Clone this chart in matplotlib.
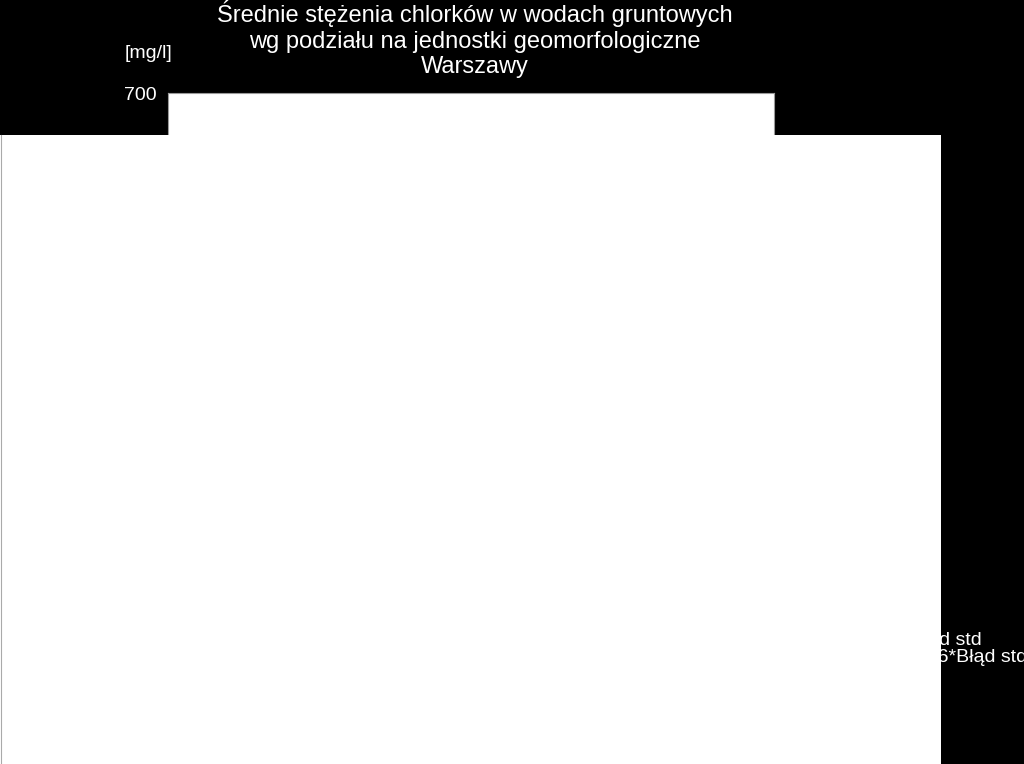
import matplotlib
matplotlib.use("Agg")
import matplotlib.pyplot as plt
from matplotlib.patches import Rectangle
from matplotlib.lines import Line2D

# ---- data / text ----
title_lines = ["Średnie stężenia chlorków w wodach gruntowych",
               "wg podziału na jednostki geomorfologiczne",
               "Warszawy"]
y_unit = "[mg/l]"
y_min, y_max = 0, 700
y_ticks = [0, 100, 200, 300, 400, 500, 600, 700]
legend_labels = ["±Błąd std", "±1,96*Błąd std"]

W, H = 1024, 764
plt.rcParams['font.family'] = ['Liberation Sans', 'DejaVu Sans']
fig = plt.figure(figsize=(W / 100, H / 100), dpi=100, facecolor="black")

def fx(px):
    return px / W

def fy(py):
    return 1 - py / H

# plot area (white)
ax_left, ax_right, ax_top, ax_bottom = 168, 774, 93, 700
ax = fig.add_axes([fx(ax_left), fy(ax_bottom), fx(ax_right - ax_left), (ax_bottom - ax_top) / H])
ax.set_facecolor("white")
ax.set_ylim(y_min, y_max)
ax.set_yticks(y_ticks)
ax.set_yticklabels([str(v) for v in y_ticks])
ax.set_xticks([])
ax.tick_params(axis="y", colors="white", labelsize=14, length=0, pad=8)
for s in ax.spines.values():
    s.set_color("#9a9a9a")
    s.set_linewidth(0.8)

# title
fig.text(fx(475), fy(0), "\n".join(title_lines), ha="center", va="top",
         color="white", fontsize=17, linespacing=1.22)

# unit label
fig.text(fx(149), fy(53), y_unit, ha="center", va="center", color="white", fontsize=14)

# legend texts (partially covered, clipped at the right edge as in the source)
for i, lab in enumerate(legend_labels):
    fig.text(fx(900), fy(645 + 17 * i), lab, ha="left", va="baseline",
             color="white", fontsize=14, zorder=1)

# large white overlay panel
fig.patches.append(Rectangle((0, 0), fx(941), fy(135), transform=fig.transFigure,
                             facecolor="white", edgecolor="none", zorder=5))
fig.lines.append(Line2D([fx(0.5), fx(0.5)], [0, fy(135)], transform=fig.transFigure,
                        color="#aaaaaa", linewidth=0.8, zorder=6))

fig.savefig("out.png", dpi=100, facecolor="black")
